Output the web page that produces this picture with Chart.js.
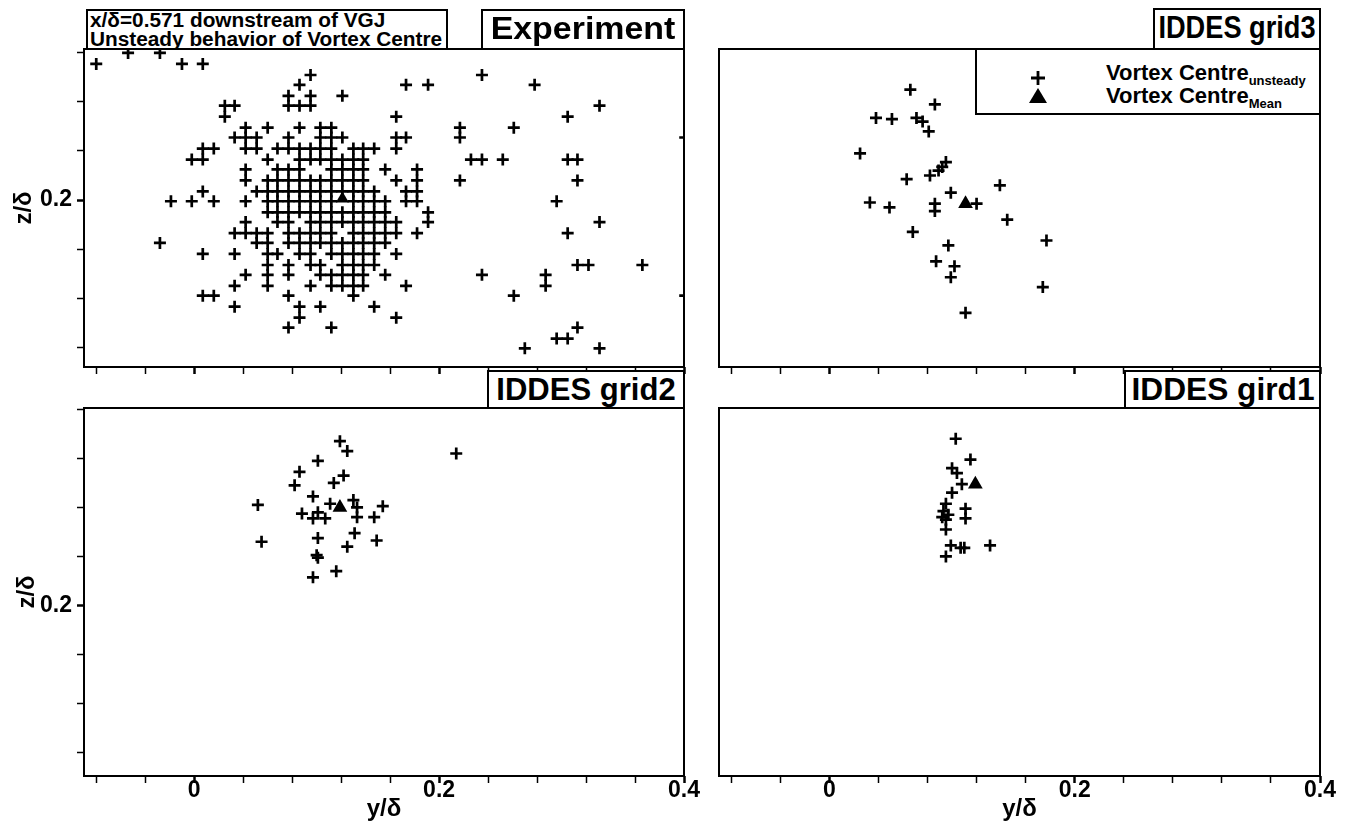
<!DOCTYPE html>
<html>
<head>
<meta charset="utf-8">
<script src="https://cdn.jsdelivr.net/npm/chart.js@4.4.0/dist/chart.umd.min.js"></script>
<style>
  body { margin: 0; width: 1348px; height: 825px; position: relative; overflow: hidden; background: #fff;
         font-family: "Liberation Sans", Arial, sans-serif; }
  canvas { position: absolute; }
  .box { position: absolute; box-sizing: border-box; border: 2px solid #000; background: #fff;
         font-weight: bold; color: #000; white-space: nowrap; }
  .tag { font-size: 32px; line-height: 35px; }
  .tag span { position: absolute; left: 50%; top: 0; }
  .info { font-size: 20px; line-height: 19px; padding: 0 0 0 2px; }
  .info span { display: inline-block; transform-origin: 0 0; transform: scaleX(1.04); }
  .leg div { position: absolute; font-size: 22px; line-height: 22px; }
  .leg sub { font-size: 13px; vertical-align: -5px; }
  .leg svg { position: absolute; }
</style>
</head>
<body>
<canvas id="tl" width="700" height="390" style="left:0;top:0"></canvas>
<canvas id="tr" width="648" height="390" style="left:700px;top:0"></canvas>
<canvas id="bl" width="700" height="430" style="left:0;top:395px"></canvas>
<canvas id="br" width="648" height="430" style="left:700px;top:395px"></canvas>

<div class="box info" style="left:86px;top:9px;width:362px;height:41px"><span>x/δ=0.571 downstream of VGJ<br>Unsteady behavior of Vortex Centre</span></div>
<div class="box tag" style="left:481px;top:9px;width:204px;height:41px"><span style="transform:translateX(-50%) scaleX(1.06)">Experiment</span></div>
<div class="box tag" style="left:1153px;top:8px;width:168px;height:42px"><span style="transform:translateX(-50%) scaleX(0.85)">IDDES grid3</span></div>
<div class="box tag" style="left:487px;top:370px;width:198px;height:39px"><span style="transform:translateX(-50%) scaleX(0.97)">IDDES grid2</span></div>
<div class="box tag" style="left:1124px;top:370px;width:197px;height:39px"><span style="transform:translateX(-50%) scaleX(0.99)">IDDES gird1</span></div>
<div class="box leg" style="left:975px;top:48px;width:346px;height:67px">
  <svg width="14" height="14" style="left:54px;top:21px"><path d="M7 0V14M0 7H14" stroke="#000" stroke-width="2.8"/></svg>
  <svg width="18" height="15" style="left:52px;top:38px"><path d="M9 0L18 15H0Z" fill="#000"/></svg>
  <div style="left:129px;top:12px">Vortex Centre<sub>unsteady</sub></div>
  <div style="left:129px;top:35px">Vortex Centre<sub>Mean</sub></div>
</div>

<script>
// axis ticks (every 0.04, labels only on the 0.2 steps)
const yTickValues = [-0.08, -0.04, 0, 0.04, 0.08, 0.12, 0.16, 0.2, 0.24, 0.28, 0.32, 0.36, 0.4];
const yTickLabels = [0, 0.2, 0.4];
const zTickValues = [0.08, 0.12, 0.16, 0.2, 0.24, 0.28, 0.32, 0.36];
const zTickLabels = [0.2];

// Experiment: PIV grid, one row per z/delta level
const expZRows = [0.320, 0.311, 0.302, 0.294, 0.285, 0.277, 0.268, 0.259, 0.251, 0.242,
  0.233, 0.225, 0.216, 0.207, 0.199, 0.190, 0.182, 0.173, 0.165, 0.156,
  0.147, 0.139, 0.130, 0.122, 0.113, 0.104, 0.096, 0.087, 0.079];
const expYRows = [
  [-0.054, -0.028],
  [-0.080, -0.010, 0.007],
  [0.095, 0.235],
  [0.086, 0.173, 0.191, 0.278],
  [0.077, 0.095, 0.121],
  [0.025, 0.033, 0.077, 0.086, 0.095, 0.331],
  [0.025, 0.165, 0.305],
  [0.042, 0.060, 0.086, 0.103, 0.112, 0.217, 0.261],
  [0.033, 0.042, 0.051, 0.077, 0.103, 0.112, 0.121, 0.165, 0.173, 0.217, 0.401],
  [0.007, 0.016, 0.042, 0.051, 0.068, 0.077, 0.086, 0.095, 0.103, 0.112, 0.130, 0.138, 0.147, 0.165],
  [-0.002, 0.007, 0.060, 0.086, 0.095, 0.103, 0.112, 0.121, 0.130, 0.138, 0.226, 0.235, 0.252, 0.305, 0.313],
  [0.042, 0.068, 0.077, 0.086, 0.112, 0.121, 0.130, 0.138, 0.156, 0.182],
  [0.042, 0.060, 0.068, 0.077, 0.086, 0.095, 0.103, 0.112, 0.121, 0.130, 0.138, 0.165, 0.182, 0.217, 0.313],
  [0.007, 0.051, 0.060, 0.068, 0.077, 0.086, 0.095, 0.103, 0.112, 0.121, 0.130, 0.138, 0.147, 0.173, 0.182],
  [-0.019, -0.002, 0.016, 0.042, 0.060, 0.068, 0.077, 0.086, 0.095, 0.103, 0.112, 0.130, 0.138, 0.147, 0.156, 0.173, 0.182, 0.296],
  [0.060, 0.068, 0.077, 0.086, 0.095, 0.103, 0.112, 0.121, 0.130, 0.138, 0.147, 0.156, 0.191],
  [0.042, 0.068, 0.077, 0.095, 0.103, 0.112, 0.121, 0.130, 0.138, 0.147, 0.156, 0.165, 0.191, 0.331],
  [0.033, 0.042, 0.051, 0.060, 0.077, 0.086, 0.095, 0.103, 0.112, 0.130, 0.138, 0.147, 0.156, 0.165, 0.182, 0.305],
  [-0.028, 0.051, 0.060, 0.077, 0.086, 0.095, 0.103, 0.112, 0.121, 0.130, 0.138, 0.147, 0.156],
  [0.007, 0.033, 0.060, 0.068, 0.086, 0.095, 0.112, 0.121, 0.130, 0.138, 0.147, 0.165],
  [0.060, 0.077, 0.095, 0.103, 0.121, 0.130, 0.138, 0.147, 0.313, 0.322, 0.366],
  [0.042, 0.060, 0.077, 0.103, 0.112, 0.121, 0.130, 0.138, 0.156, 0.235, 0.287],
  [0.033, 0.060, 0.095, 0.112, 0.121, 0.130, 0.138, 0.173, 0.287],
  [0.007, 0.016, 0.077, 0.130, 0.261, 0.401],
  [0.033, 0.086, 0.103, 0.147],
  [0.086, 0.165],
  [0.077, 0.112, 0.313],
  [0.296, 0.305],
  [0.270, 0.331]
];
const expMean = [0.121, 0.201];

// IDDES grid3
const grid3Y = [0.066, 0.086, 0.038, 0.051, 0.071, 0.076, 0.081, 0.025, 0.095, 0.092,
  0.089, 0.082, 0.063, 0.139, 0.099, 0.033, 0.049, 0.086, 0.086, 0.120,
  0.145, 0.068, 0.177, 0.097, 0.087, 0.102, 0.099, 0.174, 0.111];
const grid3Z = [0.290, 0.278, 0.267, 0.266, 0.267, 0.264, 0.256, 0.238, 0.231, 0.227,
  0.224, 0.220, 0.217, 0.212, 0.206, 0.198, 0.194, 0.197, 0.191, 0.197,
  0.184, 0.174, 0.167, 0.163, 0.150, 0.146, 0.137, 0.129, 0.108];
const grid3Mean = [0.111, 0.197];

// IDDES grid2
const grid2Y = [0.119, 0.125, 0.101, 0.086, 0.122, 0.114, 0.082, 0.214, 0.052, 0.097,
  0.111, 0.130, 0.154, 0.088, 0.101, 0.097, 0.107, 0.133, 0.133, 0.147,
  0.101, 0.131, 0.125, 0.149, 0.055, 0.100, 0.101, 0.116, 0.097];
const grid2Z = [0.334, 0.326, 0.318, 0.309, 0.306, 0.300, 0.298, 0.324, 0.282, 0.289,
  0.283, 0.286, 0.281, 0.275, 0.276, 0.271, 0.271, 0.280, 0.272, 0.272,
  0.255, 0.259, 0.248, 0.253, 0.252, 0.241, 0.239, 0.228, 0.223];
const grid2Mean = [0.119, 0.280];

// IDDES gird1
const grid1Y = [0.103, 0.115, 0.100, 0.104, 0.108, 0.100, 0.095, 0.093, 0.097, 0.092,
  0.095, 0.111, 0.111, 0.095, 0.099, 0.107, 0.110, 0.131, 0.095];
const grid1Z = [0.336, 0.319, 0.312, 0.308, 0.299, 0.292, 0.283, 0.277, 0.274, 0.272,
  0.270, 0.279, 0.271, 0.262, 0.249, 0.247, 0.247, 0.249, 0.240];
const grid1Mean = [0.119, 0.299];

const yRange = [-0.09, 0.4];
const zRangeTop = [0.0638, 0.3232];
const zRangeBottom = [0.0609, 0.3611];

function pairUp(ys, zs) {
  return ys.map((v, i) => ({ x: v, y: zs[i] }));
}

const expPoints = [];
expYRows.forEach((row, i) => row.forEach(v => expPoints.push({ x: v, y: expZRows[i] })));

Chart.defaults.font.family = '"Liberation Sans", Arial, sans-serif';
Chart.defaults.color = '#000';

const framePlugin = {
  id: 'frame',
  afterDraw(chart) {
    const { ctx, chartArea: a } = chart;
    ctx.save();
    ctx.strokeStyle = '#000';
    ctx.lineWidth = 2;
    ctx.strokeRect(a.left, a.top, a.right - a.left, a.bottom - a.top);
    ctx.restore();
  }
};

function tickSetter(values) {
  return s => {
    s.ticks = values.filter(v => v >= s.min - 1e-9 && v <= s.max + 1e-9).map(v => ({ value: v }));
  };
}

function makePanel(id, p) {
  const font = { size: 23, weight: 'bold' };
  new Chart(document.getElementById(id), {
    type: 'scatter',
    data: {
      datasets: [
        { label: 'Vortex Centre Mean', data: [{ x: p.mean[0], y: p.mean[1] }], pointStyle: 'triangle',
          pointRadius: p.meanR, backgroundColor: '#000', borderColor: '#000', borderWidth: 0 },
        { label: 'Vortex Centre unsteady', data: p.points, pointStyle: 'cross', pointRadius: 6,
          borderColor: '#000', borderWidth: 2.7 }
      ]
    },
    options: {
      responsive: false,
      animation: false,
      events: [],
      layout: { padding: p.pad },
      plugins: { legend: { display: false }, tooltip: { enabled: false } },
      scales: {
        x: {
          type: 'linear', min: yRange[0], max: yRange[1],
          afterBuildTicks: tickSetter(yTickValues),
          afterFit: s => { s.height = p.xh; s.paddingLeft = 0; s.paddingRight = 0; },
          border: { display: false },
          grid: { drawOnChartArea: false, tickLength: 7, tickColor: '#000',
                  tickWidth: c => (c.tick && yTickLabels.includes(c.tick.value)) ? 2.5 : 1.5 },
          ticks: { display: p.xLabels, autoSkip: false, maxRotation: 0, padding: -6, font,
                   callback: v => yTickLabels.includes(v) ? String(v) : '' },
          title: { display: p.xLabels, text: 'y/δ', font: { size: 24, weight: 'bold' }, padding: { top: 0, bottom: 1 } }
        },
        y: {
          type: 'linear', min: p.z[0], max: p.z[1],
          afterBuildTicks: tickSetter(zTickValues),
          afterFit: s => { s.width = p.yw; s.paddingTop = 0; s.paddingBottom = 0; },
          border: { display: false },
          grid: { drawOnChartArea: false, drawTicks: p.yTicks, tickLength: 7, tickColor: '#000',
                  tickWidth: c => (c.tick && zTickLabels.includes(c.tick.value)) ? 2.5 : 1.5 },
          ticks: { display: p.yTicks, autoSkip: false, padding: 5, font,
                   callback: v => zTickLabels.includes(v) ? String(v) : '' },
          title: { display: p.yTicks, text: 'z/δ', font: { size: 24, weight: 'bold' }, padding: { top: p.zt, bottom: 0 } }
        }
      }
    },
    plugins: [framePlugin]
  });
}

makePanel('tl', { points: expPoints, mean: expMean, meanR: 7.5, z: zRangeTop,
  pad: { top: 49, right: 16, left: 0, bottom: 0 }, xh: 23, yw: 84, xLabels: false, yTicks: true, zt: 10 });
makePanel('tr', { points: pairUp(grid3Y, grid3Z), mean: grid3Mean, meanR: 8.5, z: zRangeTop,
  pad: { top: 49, right: 28, left: 0, bottom: 0 }, xh: 23, yw: 19, xLabels: false, yTicks: false, zt: 0 });
makePanel('bl', { points: pairUp(grid2Y, grid2Z), mean: grid2Mean, meanR: 8.5, z: zRangeBottom,
  pad: { top: 13, right: 16, left: 0, bottom: 0 }, xh: 49, yw: 84, xLabels: true, yTicks: true, zt: 13 });
makePanel('br', { points: pairUp(grid1Y, grid1Z), mean: grid1Mean, meanR: 8.5, z: zRangeBottom,
  pad: { top: 13, right: 28, left: 0, bottom: 0 }, xh: 49, yw: 19, xLabels: true, yTicks: false, zt: 0 });
</script>
</body>
</html>
